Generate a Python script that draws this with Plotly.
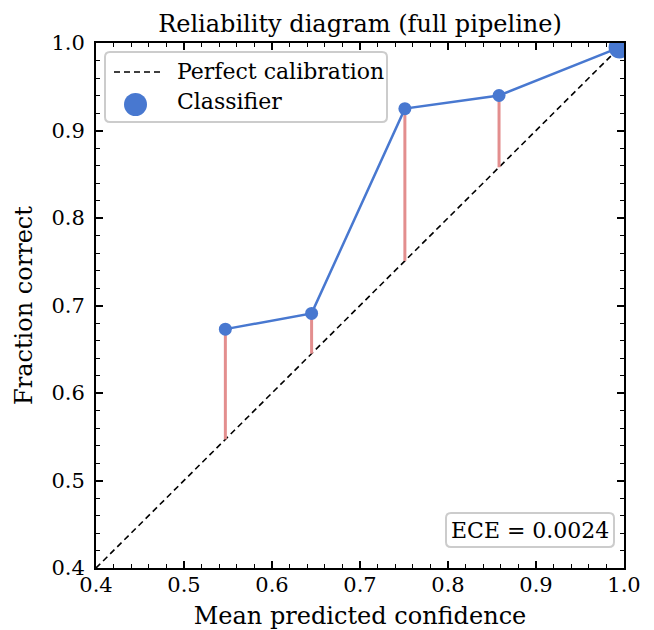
import plotly.graph_objects as go

conf = [0.547, 0.645, 0.751, 0.858, 0.995]
acc = [0.673, 0.691, 0.925, 0.940, 0.995]
sizes = [13, 13, 13, 13, 22]
diag = [0.4, 1.0]
ece_text = "ECE = 0.0024"
legend_labels = ["Perfect calibration", "Classifier"]
ticks = [0.4, 0.5, 0.6, 0.7, 0.8, 0.9, 1.0]
tick_labels = ["0.4", "0.5", "0.6", "0.7", "0.8", "0.9", "1.0"]

BLUE = "#4878d0"
RED = "#e38e8e"
FONT = "DejaVu Serif"
OFF = 8  # page body margin
W, H = 654 - OFF, 630 - OFF
X0P, X1P, Y0P, Y1P = 96, 624, 43, 568  # plot area in window pixels
L, T = X0P - OFF, Y0P - OFF
R, B = W - (X1P - OFF), H - (Y1P - OFF)
PW, PH = X1P - X0P, Y1P - Y0P


def px(x):
    return (x - X0P) / PW


def py(y):
    return (Y1P - y) / PH


def rounded_rect(x0, y0, x1, y1, r=5):
    rx, ry = r / PW, r / PH
    A0, A1 = px(x0), px(x1)
    B0, B1 = py(y1), py(y0)
    return (f"M {A0+rx},{B0} L {A1-rx},{B0} Q {A1},{B0} {A1},{B0+ry} "
            f"L {A1},{B1-ry} Q {A1},{B1} {A1-rx},{B1} L {A0+rx},{B1} "
            f"Q {A0},{B1} {A0},{B1-ry} L {A0},{B0+ry} Q {A0},{B0} {A0+rx},{B0} Z")


fig = go.Figure()
fig.add_trace(go.Scatter(x=diag, y=diag, mode="lines", name=legend_labels[0], showlegend=False,
                         line=dict(color="black", width=1.6, dash="6px,4px")))
gx, gy = [], []
for c, a in zip(conf, acc):
    gx += [c, c, None]
    gy += [c, a, None]
fig.add_trace(go.Scatter(x=gx, y=gy, mode="lines", showlegend=False,
                         line=dict(color=RED, width=3)))
fig.add_trace(go.Scatter(x=conf, y=acc, mode="lines+markers", name=legend_labels[1], showlegend=False,
                         line=dict(color=BLUE, width=2.5),
                         marker=dict(color=BLUE, size=sizes, opacity=1, line=dict(width=0)),
                         cliponaxis=True))

axis_common = dict(
    ticks="inside", ticklen=7, tickwidth=1.5, tickcolor="black",
    showline=True, linecolor="black", linewidth=2, mirror="allticks",
    showgrid=False, zeroline=False, tickvals=ticks, ticktext=tick_labels,
    tickfont=dict(family=FONT, size=21, color="black"),
    automargin=False,
    minor=dict(ticks="inside", ticklen=4, tickwidth=1, tickcolor="black", dtick=0.02,
               tick0=0.4, showgrid=False),
)
fig.update_xaxes(range=[0.4, 1.0], ticklabelstandoff=-3,
                 title=dict(text="Mean predicted confidence",
                            font=dict(family=FONT, size=24, color="black"), standoff=11), **axis_common)
fig.update_yaxes(range=[0.4, 1.0], ticklabelstandoff=5,
                 title=dict(text="Fraction correct",
                            font=dict(family=FONT, size=24, color="black"), standoff=12), **axis_common)

shapes = [
    dict(type="path", xref="paper", yref="paper", path=rounded_rect(105, 52, 387, 122),
         fillcolor="rgba(255,255,255,0.85)", line=dict(color="#cccccc", width=2), layer="above"),
    dict(type="line", xref="paper", yref="paper", x0=px(114), x1=px(160), y0=py(72), y1=py(72),
         line=dict(color="black", width=1.6, dash="6px,4px"), layer="above"),
    dict(type="circle", xref="paper", yref="paper", x0=px(124), x1=px(147), y0=py(116), y1=py(93),
         fillcolor=BLUE, line=dict(width=0), layer="above"),
    dict(type="path", xref="paper", yref="paper", path=rounded_rect(446, 513, 614, 547),
         fillcolor="white", line=dict(color="#cccccc", width=2), layer="above"),
]

annotations = [
    dict(x=px(175), y=py(71), xref="paper", yref="paper", xanchor="left", yanchor="middle",
         text=legend_labels[0], showarrow=False, font=dict(family=FONT, size=22, color="black")),
    dict(x=px(175), y=py(102), xref="paper", yref="paper", xanchor="left", yanchor="middle",
         text=legend_labels[1], showarrow=False, font=dict(family=FONT, size=22, color="black")),
    dict(x=px(530), y=py(530), xref="paper", yref="paper", xanchor="center", yanchor="middle",
         text=ece_text, showarrow=False, font=dict(family=FONT, size=22, color="black")),
]

fig.update_layout(
    width=W, height=H,
    margin=dict(l=L, r=R, t=T, b=B),
    paper_bgcolor="white", plot_bgcolor="white",
    title=dict(text="Reliability diagram (full pipeline)", x=px(360), xanchor="center",
               xref="paper", y=1 - (24 - OFF) / H, yanchor="middle",
               font=dict(family=FONT, size=24, color="black")),
    font=dict(family=FONT, color="black"),
    shapes=shapes, annotations=annotations,
    showlegend=False,
)

fig.write_html("out.html")
